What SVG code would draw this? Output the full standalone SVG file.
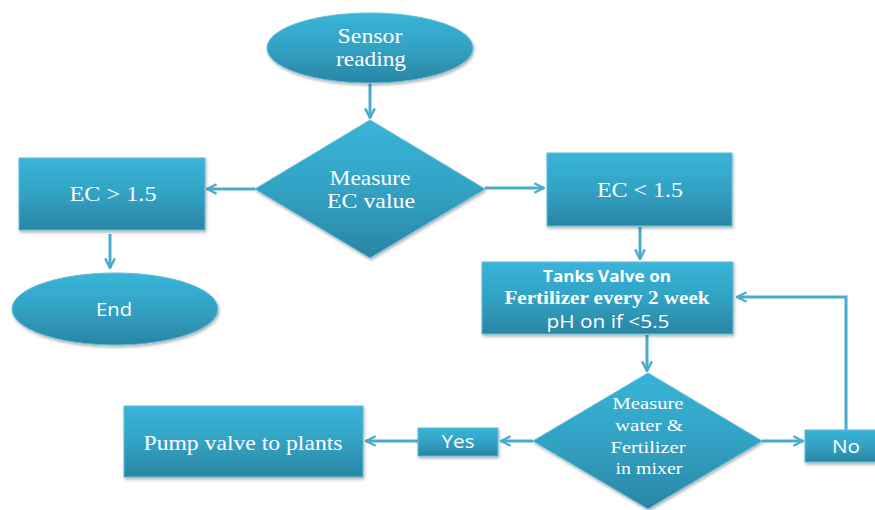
<svg xmlns="http://www.w3.org/2000/svg" width="875" height="510" viewBox="0 0 875 510">
<defs>
<linearGradient id="g" x1="0" y1="0" x2="0" y2="1">
<stop offset="0" stop-color="#38b4d8"/>
<stop offset="0.5" stop-color="#32a2c4"/>
<stop offset="1" stop-color="#2a85a3"/>
</linearGradient>
<filter id="sh" x="-10%" y="-10%" width="120%" height="130%">
<feDropShadow dx="1" dy="2" stdDeviation="1.5" flood-color="#000" flood-opacity="0.3"/>
</filter>
<marker id="ah" viewBox="0 0 10 10" refX="9" refY="5" markerWidth="4" markerHeight="4" orient="auto" markerUnits="strokeWidth">
<path d="M1,1 L9,5 L1,9" fill="none" stroke="#4aaccc" stroke-width="2"/>
</marker>
</defs>
<style>
.sh{fill:url(#g);stroke:#5fbcd8;stroke-width:1;filter:url(#sh)}
.c{fill:none;stroke:#4aaccc;stroke-width:3;marker-end:url(#ah)}
.s{font-family:"Liberation Serif","Times New Roman",serif;fill:#fff;text-anchor:middle}
.a{font-family:"Open Sans","Liberation Sans",sans-serif;fill:#fff;text-anchor:middle}
</style>
<rect width="875" height="510" fill="#fff"/>
<g id="connectors">
<path class="c" d="M370,84 V118"/>
<path class="c" d="M255,189 H207"/>
<path class="c" d="M110,234 V268"/>
<path class="c" d="M485,188 H544"/>
<path class="c" d="M640,227 V259"/>
<path class="c" d="M647,335 V371"/>
<path class="c" d="M533,441 H501"/>
<path class="c" d="M418,441 H366"/>
<path class="c" d="M762,441 H803"/>
<path class="c" d="M846,430 V297 H737"/>
</g>
<g id="sensor">
<ellipse class="sh" cx="370" cy="48" rx="103" ry="35"/>
<text class="s" x="370" y="43" font-size="21" textLength="65" lengthAdjust="spacingAndGlyphs">Sensor</text>
<text class="s" x="371" y="66" font-size="21" textLength="70" lengthAdjust="spacingAndGlyphs">reading</text>
</g>
<g id="measure-ec">
<polygon class="sh" points="370,120 485,189 370,258 255,189"/>
<text class="s" x="370" y="185" font-size="21" textLength="81" lengthAdjust="spacingAndGlyphs">Measure</text>
<text class="s" x="371" y="208" font-size="21" textLength="88" lengthAdjust="spacingAndGlyphs">EC value</text>
</g>
<g id="ec-gt">
<rect class="sh" x="19" y="158" width="186" height="72"/>
<text class="s" x="113" y="201" font-size="21" textLength="87" lengthAdjust="spacingAndGlyphs">EC &gt; 1.5</text>
</g>
<g id="end">
<ellipse class="sh" cx="115" cy="309" rx="103" ry="36"/>
<text class="a" x="114" y="316" font-size="19" textLength="36" lengthAdjust="spacingAndGlyphs">End</text>
</g>
<g id="ec-lt">
<rect class="sh" x="547" y="153" width="185" height="73"/>
<text class="s" x="640" y="197" font-size="21" textLength="86" lengthAdjust="spacingAndGlyphs">EC &lt; 1.5</text>
</g>
<g id="tanks">
<rect class="sh" x="482" y="262" width="251" height="72"/>
<text class="a" x="607" y="282" font-size="16" font-weight="bold" textLength="128" lengthAdjust="spacingAndGlyphs">Tanks Valve on</text>
<text class="s" x="607" y="304" font-size="18" font-weight="bold" textLength="205" lengthAdjust="spacingAndGlyphs">Fertilizer every 2 week</text>
<text class="a" x="608" y="328" font-size="19" textLength="123" lengthAdjust="spacingAndGlyphs">pH on if &lt;5.5</text>
</g>
<g id="measure-mix">
<polygon class="sh" points="648,373 762,441 648,509 533,441"/>
<text class="s" x="648" y="409" font-size="17" textLength="71" lengthAdjust="spacingAndGlyphs">Measure</text>
<text class="s" x="649" y="431" font-size="17" textLength="68" lengthAdjust="spacingAndGlyphs">water &amp;</text>
<text class="s" x="648" y="453" font-size="17" textLength="75" lengthAdjust="spacingAndGlyphs">Fertilizer</text>
<text class="s" x="649" y="474" font-size="17" textLength="67" lengthAdjust="spacingAndGlyphs">in mixer</text>
</g>
<g id="yes">
<rect class="sh" x="418" y="428" width="80" height="28"/>
<text class="a" x="458" y="448" font-size="18" textLength="33" lengthAdjust="spacingAndGlyphs">Yes</text>
</g>
<g id="pump">
<rect class="sh" x="124" y="406" width="239" height="71"/>
<text class="s" x="243" y="450" font-size="21" textLength="199" lengthAdjust="spacingAndGlyphs">Pump valve to plants</text>
</g>
<g id="no">
<rect class="sh" x="805" y="430" width="72" height="32"/>
<text class="a" x="846" y="453" font-size="18" textLength="28" lengthAdjust="spacingAndGlyphs">No</text>
</g>
</svg>
